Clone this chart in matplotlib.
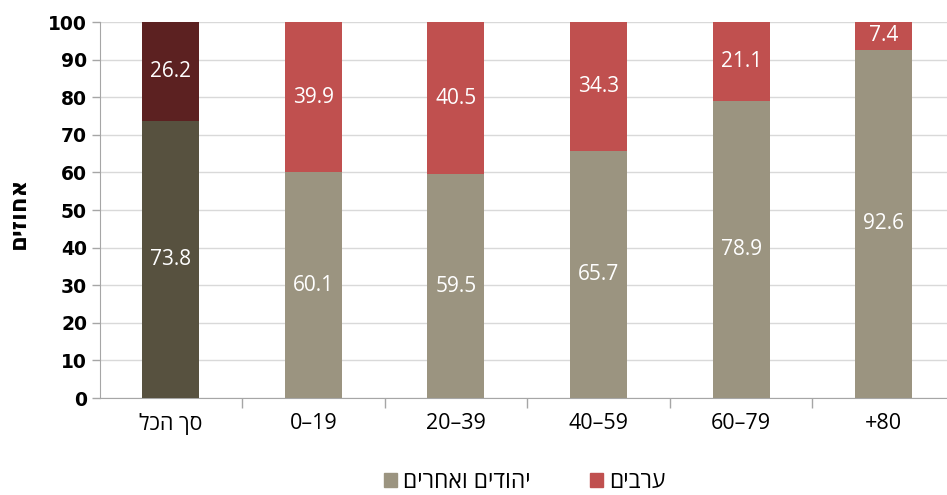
import matplotlib
matplotlib.use("Agg")
import matplotlib.pyplot as plt
import numpy as np
from matplotlib.patches import Patch

plt.rcParams['font.family'] = ['Open Sans', 'DejaVu Sans']

def heb(s):
    return s[::-1]

categories = [heb("סך הכל"), "0–19", "20–39", "40–59", "60–79", "+80"]
jews_others = [73.8, 60.1, 59.5, 65.7, 78.9, 92.6]
arabs = [26.2, 39.9, 40.5, 34.3, 21.1, 7.4]
legend_jews = heb("יהודים ואחרים")
legend_arabs = heb("ערבים")
ylabel = heb("אחוזים")
yticks = [0, 10, 20, 30, 40, 50, 60, 70, 80, 90, 100]

c_jews = ['#57513F'] + ['#9B9480'] * 5
c_arabs = ['#5C2121'] + ['#C0504F'] * 5

fig = plt.figure(figsize=(9.47, 4.95), dpi=100)
ax = fig.add_axes([99.5/947, 1 - 398/495, 1 - 99.5/947, (398 - 22)/495])

x = np.arange(len(categories))
w = 0.4
ax.bar(x, jews_others, w, color=c_jews, zorder=3)
ax.bar(x, arabs, w, bottom=jews_others, color=c_arabs, zorder=3)

for i in range(len(x)):
    ax.text(x[i], jews_others[i] / 2, f"{jews_others[i]:.1f}", ha='center', va='center',
            color='white', fontsize=15, zorder=4)
    ax.text(x[i], jews_others[i] + arabs[i] / 2, f"{arabs[i]:.1f}", ha='center', va='center',
            color='white', fontsize=15, zorder=4)

right_lim = 5.5 - (955 - 947) / 142.5
ax.set_xlim(-0.5, right_lim)
ax.set_ylim(0, 100)
ax.set_yticks(yticks)
ax.set_yticklabels([str(t) for t in yticks], fontsize=13.5, fontweight='bold',
                   family=['DejaVu Sans'])
ax.yaxis.grid(True, color='#D9D9D9', linewidth=1, zorder=0)
ax.set_axisbelow(True)

ax.set_xticks(x)
ax.set_xticklabels(categories, fontsize=15.5)
ax.tick_params(axis='x', length=0, pad=11)
ax.set_xticks(np.arange(0.5, 5.5, 1), minor=True)
ax.tick_params(axis='x', which='minor', length=7, color='#A6A6A6', width=1)
ax.tick_params(axis='y', length=6, color='#A6A6A6', width=1, pad=3)

for s in ['top', 'right']:
    ax.spines[s].set_visible(False)
ax.spines['left'].set_color('#A6A6A6')
ax.spines['bottom'].set_color('#A6A6A6')

fig.text(19/947, 1 - 213/495, ylabel, rotation=90, ha='center', va='center',
         fontsize=16.5, fontweight='bold')

handles = [Patch(color='#9B9480'), Patch(color='#C0504F')]
fig.legend(handles, [legend_jews, legend_arabs], loc='center', bbox_to_anchor=(525/947, 1 - 482/495),
           ncol=2, frameon=False, fontsize=16.5, handlelength=0.55, handleheight=0.55,
           handletextpad=0.28, columnspacing=2.6, borderpad=0.1)

fig.savefig("out.png", dpi=100)
